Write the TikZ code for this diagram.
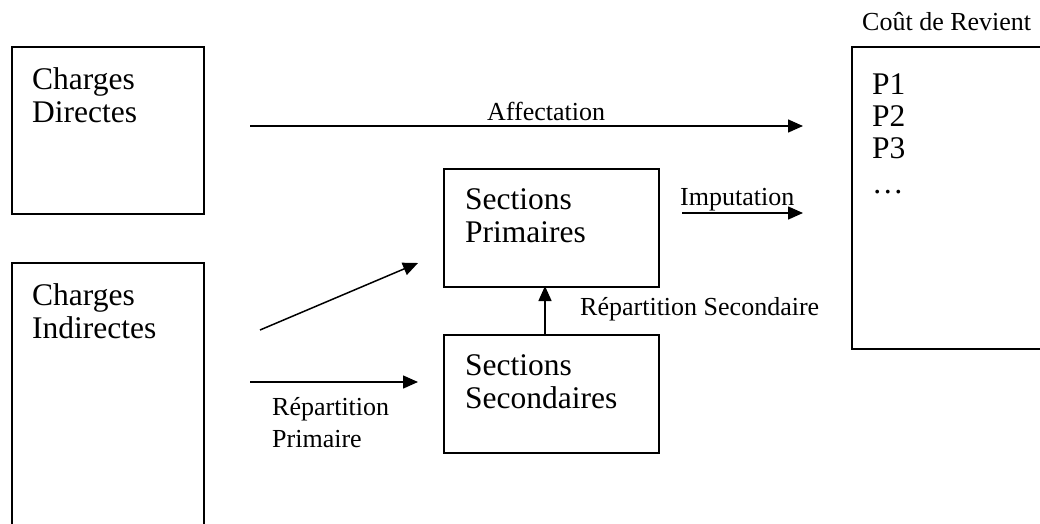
\documentclass[tikz,border=0pt]{standalone}
\usepackage{fontspec}
\setmainfont{Liberation Serif}
\usetikzlibrary{arrows.meta}
\begin{document}
\begin{tikzpicture}[x=1pt,y=-1pt,
  box/.style={draw,line width=1.5pt,inner sep=0pt,anchor=north west},
  big/.style={anchor=base west,inner sep=0pt,font=\fontsize{31.5}{32}\selectfont},
  small/.style={anchor=base west,inner sep=0pt,font=\fontsize{26}{32}\selectfont},
  arr/.style={line width=1.5pt,-{Triangle[length=15pt,width=13pt]}}]
\useasboundingbox (0,0) rectangle (1040,523);
\clip (0,0) rectangle (1040,523);
% boxes
\node[box,minimum width=192pt,minimum height=167pt] (cd) at (11,46) {};
\node[box,minimum width=192pt,minimum height=400pt] (ci) at (11,262) {};
\node[box,minimum width=215pt,minimum height=118pt] (sp) at (443,168) {};
\node[box,minimum width=215pt,minimum height=118pt] (ss) at (443,334) {};
\node[box,minimum width=300pt,minimum height=302pt] (cr) at (851,46) {};
% box texts
\node[big] (t1) at (32,89) {Charges};
\node[big] (t2) at (32,122) {Directes};
\node[big] (t3) at (32,305) {Charges};
\node[big] (t4) at (32,338) {Indirectes};
\node[big] (t5) at (465,209) {Sections};
\node[big] (t6) at (465,242) {Primaires};
\node[big] (t7) at (465,375) {Sections};
\node[big] (t8) at (465,408) {Secondaires};
\node[big] (p1) at (872,94) {P1};
\node[big] (p2) at (872,126) {P2};
\node[big] (p3) at (872,158) {P3};
\node[big] (p4) at (872,193) {…};
% labels
\node[small] (l1) at (862,30) {Coût de Revient};
\node[small] (l2) at (487,120) {Affectation};
\node[small] (l3) at (680,205) {Imputation};
\node[small] (l4) at (580,315) {Répartition Secondaire};
\node[small] (l5) at (272,415) {Répartition};
\node[small] (l6) at (272,447) {Primaire};
% arrow ends
\coordinate (a1) at (250,126);
\coordinate (a2) at (803,126);
\coordinate (b1) at (682,213);
\coordinate (b2) at (803,213);
\coordinate (c1) at (260,330);
\coordinate (c2) at (418,263);
\coordinate (d1) at (250,382);
\coordinate (d2) at (418,382);
\coordinate (e1) at (545,334);
\coordinate (e2) at (545,286);
\draw[arr] (a1) -- (a2);
\draw[arr] (b1) -- (b2);
\draw[arr] (c1) -- (c2);
\draw[arr] (d1) -- (d2);
\draw[arr] (e1) -- (e2);
\end{tikzpicture}
\end{document}
